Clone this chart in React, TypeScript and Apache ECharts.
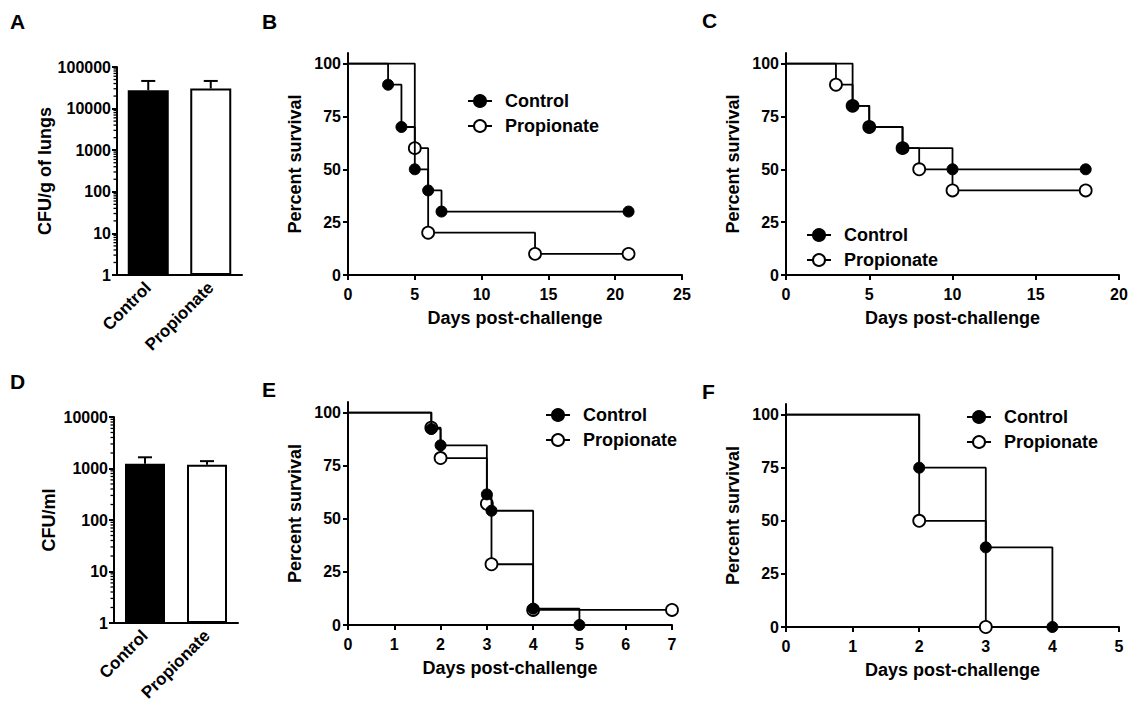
import React, { useEffect, useRef } from 'react';
import * as echarts from 'echarts';

const FONT = '"Liberation Sans", Arial, Helvetica, sans-serif';

// ---- Data ----
const groups = ['Control', 'Propionate'];
const lungCfuMean = [27700, 30400];
const lungCfuUpper = [46200, 46200];
const bloodCfuMean = [1230, 1180];
const bloodCfuUpper = [1650, 1390];

const survTicks = [0, 25, 50, 75, 100];

const bCtrlDays = [0, 3, 4, 5, 6, 7, 21];
const bCtrlSurv = [100, 90, 70, 50, 40, 30, 30];
const bPropDays = [0, 5, 6, 14, 21];
const bPropSurv = [100, 60, 20, 10, 10];

const cCtrlDays = [0, 4, 5, 7, 10, 18];
const cCtrlSurv = [100, 80, 70, 60, 50, 50];
const cPropDays = [0, 3, 4, 5, 7, 8, 10, 18];
const cPropSurv = [100, 90, 80, 70, 60, 50, 40, 40];

const eCtrlDays = [0, 1.8, 2, 3, 3.1, 4, 5];
const eCtrlSurv = [100, 92.3, 84.6, 61.5, 53.8, 7.7, 0];
const ePropDays = [0, 1.8, 2, 3, 3.1, 4, 7];
const ePropSurv = [100, 92.9, 78.6, 57.1, 28.6, 7.1, 7.1];

const fCtrlDays = [0, 2, 3, 4];
const fCtrlSurv = [100, 75, 37.5, 0];
const fPropDays = [0, 2, 3];
const fPropSurv = [100, 50, 0];

// minor tick positions for log axes (2..9 within each decade)
function logMinor(decades: number): number[] {
  const out: number[] = [];
  for (let k = 0; k < decades; k++) {
    for (let m = 2; m <= 9; m++) out.push(m * Math.pow(10, k));
  }
  return out;
}

const axisLine = { show: true, lineStyle: { color: '#000', width: 2 } };
const axisTick = { show: true, length: 5, lineStyle: { color: '#000', width: 2 } };
const labelStyle = { color: '#000', fontWeight: 'bold', fontSize: 16, fontFamily: FONT };
const nameStyle = { color: '#000', fontWeight: 'bold', fontSize: 18, fontFamily: FONT };

function kmData(days: number[], surv: number[]) {
  return days.map((d, i) =>
    i === 0 ? { value: [d, surv[i]], symbol: 'none' } : { value: [d, surv[i]] }
  );
}

function kmSeries(name: string, idx: number, days: number[], surv: number[], filled: boolean) {
  return {
    type: 'line',
    name,
    xAxisIndex: idx,
    yAxisIndex: idx,
    step: 'end',
    data: kmData(days, surv),
    symbol: 'circle',
    symbolSize: filled ? 11 : 12,
    showAllSymbol: true,
    clip: false,
    z: filled ? 4 : 3,
    lineStyle: { color: '#000', width: 1.8 },
    itemStyle: { color: filled ? '#000' : '#fff', borderColor: '#000', borderWidth: filled ? 1 : 1.8 },
    emphasis: { disabled: true },
  };
}

function barSeries(idx: number, means: number[], width: number) {
  return {
    type: 'bar',
    name: 'bars' + idx,
    xAxisIndex: idx,
    yAxisIndex: idx,
    barWidth: width,
    data: means.map((v, i) => ({
      value: v,
      itemStyle: { color: i === 0 ? '#000' : '#fff', borderColor: '#000', borderWidth: 2 },
    })),
    emphasis: { disabled: true },
    z: 2,
  };
}

function errSeries(idx: number, means: number[], uppers: number[]) {
  return {
    type: 'custom',
    xAxisIndex: idx,
    yAxisIndex: idx,
    data: means.map((m, i) => [i, m, uppers[i]]),
    z: 3,
    renderItem: (params: any, api: any) => {
      const base = api.coord([api.value(0), api.value(1)]);
      const top = api.coord([api.value(0), api.value(2)]);
      return {
        type: 'group',
        children: [
          { type: 'line', shape: { x1: base[0], y1: base[1], x2: top[0], y2: top[1] }, style: { stroke: '#000', lineWidth: 2 } },
          { type: 'line', shape: { x1: top[0] - 7, y1: top[1], x2: top[0] + 7, y2: top[1] }, style: { stroke: '#000', lineWidth: 2 } },
        ],
      };
    },
  };
}

function minorTickSeries(idx: number, values: number[]) {
  return {
    type: 'custom',
    xAxisIndex: idx,
    yAxisIndex: idx,
    data: values.map((v) => [0, v]),
    z: 5,
    clip: false,
    renderItem: (params: any, api: any) => {
      const pt = api.coord([0, api.value(1)]);
      const band = api.size([1, 0])[0];
      const x = pt[0] - band / 2;
      const y = pt[1];
      return { type: 'line', shape: { x1: x - 3.5, y1: y, x2: x, y2: y }, style: { stroke: '#000', lineWidth: 1.3 } };
    },
  };
}

function catAxis(gridIndex: number) {
  return {
    type: 'category',
    gridIndex,
    data: groups,
    axisLine,
    axisTick: { show: false },
    axisLabel: { ...labelStyle, fontSize: 17, rotate: 45, margin: 10, interval: 0 },
    splitLine: { show: false },
  };
}

function daysAxis(gridIndex: number, max: number, interval: number) {
  return {
    type: 'value',
    gridIndex,
    min: 0,
    max,
    interval,
    name: 'Days post-challenge',
    nameLocation: 'middle',
    nameGap: 34,
    nameTextStyle: nameStyle,
    axisLine,
    axisTick,
    axisLabel: { ...labelStyle, margin: 11 },
    splitLine: { show: false },
  };
}

function logAxis(gridIndex: number, max: number, name: string, gap: number) {
  return {
    type: 'log',
    logBase: 10,
    gridIndex,
    min: 1,
    max,
    name,
    nameLocation: 'middle',
    nameGap: gap,
    nameTextStyle: nameStyle,
    axisLine,
    axisTick,
    axisLabel: { ...labelStyle, margin: 6, formatter: (v: number) => String(Math.round(v)) },
    splitLine: { show: false },
  };
}

function survAxis(gridIndex: number) {
  return {
    type: 'value',
    gridIndex,
    min: 0,
    max: 105,
    name: 'Percent survival',
    nameLocation: 'middle',
    nameGap: 44,
    nameTextStyle: nameStyle,
    axisLine,
    axisTick: { ...axisTick, customValues: survTicks },
    axisLabel: { ...labelStyle, margin: 7, customValues: survTicks },
    splitLine: { show: false },
  };
}

function legendAt(left: number, top: number) {
  return {
    orient: 'vertical',
    left,
    top,
    itemWidth: 24,
    itemHeight: 15,
    itemGap: 7,
    selectedMode: false,
    textStyle: { color: '#000', fontWeight: 'bold', fontSize: 18, fontFamily: FONT, padding: [0, 0, 0, 8] },
    data: ['Control', 'Propionate'],
  };
}

function letter(text: string, left: number, top: number) {
  return {
    type: 'text',
    left,
    top,
    style: { text, font: `bold 21px ${FONT}`, fill: '#000' },
  };
}

export default function App() {
  const ref = useRef<HTMLDivElement>(null);
  useEffect(() => {
    if (!ref.current) return;
    const chart = echarts.init(ref.current, null, { renderer: 'svg' });
    chart.setOption({
      animation: false,
      backgroundColor: '#fff',
      textStyle: { fontFamily: FONT },
      grid: [
        { left: 117, top: 67, width: 125, height: 208 },
        { left: 348, top: 53, width: 334, height: 222 },
        { left: 786, top: 53, width: 333, height: 222 },
        { left: 114, top: 417, width: 124, height: 206 },
        { left: 348, top: 402, width: 324, height: 223 },
        { left: 786, top: 404, width: 333, height: 223 },
      ],
      xAxis: [
        catAxis(0),
        daysAxis(1, 25, 5),
        daysAxis(2, 20, 5),
        catAxis(3),
        daysAxis(4, 7, 1),
        daysAxis(5, 5, 1),
      ],
      yAxis: [
        logAxis(0, 100000, 'CFU/g of lungs', 60),
        survAxis(1),
        survAxis(2),
        logAxis(3, 10000, 'CFU/ml', 56),
        survAxis(4),
        survAxis(5),
      ],
      legend: [legendAt(462, 87), legendAt(801, 221), legendAt(540, 401), legendAt(961, 403)],
      graphic: [
        letter('A', 10, 11),
        letter('B', 262, 11),
        letter('C', 702, 10),
        letter('D', 10, 371),
        letter('E', 262, 379),
        letter('F', 702, 381),
      ],
      series: [
        kmSeries('Control', 1, bCtrlDays, bCtrlSurv, true),
        kmSeries('Propionate', 1, bPropDays, bPropSurv, false),
        kmSeries('Propionate', 2, cPropDays, cPropSurv, false),
        kmSeries('Control', 2, cCtrlDays, cCtrlSurv, true),
        kmSeries('Propionate', 4, ePropDays, ePropSurv, false),
        kmSeries('Control', 4, eCtrlDays, eCtrlSurv, true),
        kmSeries('Propionate', 5, fPropDays, fPropSurv, false),
        kmSeries('Control', 5, fCtrlDays, fCtrlSurv, true),
        barSeries(0, lungCfuMean, 41),
        errSeries(0, lungCfuMean, lungCfuUpper),
        minorTickSeries(0, logMinor(5)),
        barSeries(3, bloodCfuMean, 40),
        errSeries(3, bloodCfuMean, bloodCfuUpper),
        minorTickSeries(3, logMinor(4)),
      ],
    });
    return () => chart.dispose();
  }, []);
  return <div ref={ref} style={{ position: 'absolute', left: 0, top: 0, width: 1132, height: 711 }} />;
}
